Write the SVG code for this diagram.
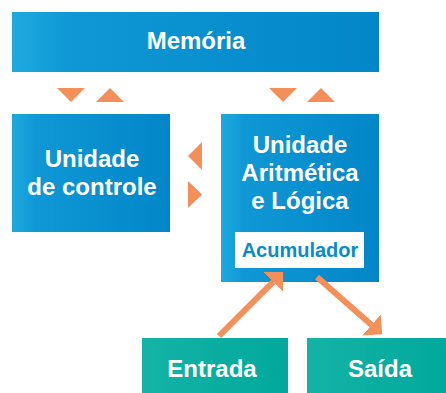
<svg xmlns="http://www.w3.org/2000/svg" width="446" height="393" viewBox="0 0 446 393">
<defs>
<linearGradient id="blue" x1="0" y1="0" x2="1" y2="0">
<stop offset="0" stop-color="#1eaadf"/>
<stop offset="0.15" stop-color="#0f98d5"/>
<stop offset="1" stop-color="#0286c8"/>
</linearGradient>
<linearGradient id="teal" x1="0" y1="0" x2="1" y2="0">
<stop offset="0" stop-color="#14b3a6"/>
<stop offset="1" stop-color="#00a99c"/>
</linearGradient>
<marker id="head" viewBox="0 0 10 20" refX="0" refY="10" markerUnits="userSpaceOnUse" markerWidth="14" markerHeight="28" orient="auto">
<path d="M0,0 L10,10 L0,20 z" fill="#f58f5a"/>
</marker>
</defs>
<style>
.box{fill:url(#blue);}
.io{fill:url(#teal);}
.t{font-family:"Liberation Sans",Arial,sans-serif;font-weight:700;fill:#ffffff;text-anchor:middle;font-size:24px;}
.acc{font-family:"Liberation Sans",Arial,sans-serif;font-weight:700;fill:#0a8ccc;text-anchor:middle;font-size:20px;}
.tri{fill:#f58f5a;}
.ln{stroke:#f58f5a;stroke-width:6;fill:none;}
</style>
<g id="memoria">
<rect class="box" x="12" y="12" width="367" height="60"/>
<text class="t" x="196" y="49">Memória</text>
</g>
<g id="controle">
<rect class="box" x="12" y="114" width="158" height="118"/>
<text class="t" x="92" y="167">Unidade</text>
<text class="t" x="92" y="195">de controle</text>
</g>
<g id="ula">
<rect class="box" x="221" y="114" width="158" height="168"/>
<text class="t" x="300" y="153">Unidade</text>
<text class="t" x="300" y="181">Aritmética</text>
<text class="t" x="300" y="209">e Lógica</text>
<g id="acumulador">
<rect x="235" y="232" width="129" height="36" fill="#ffffff"/>
<text class="acc" x="300" y="257">Acumulador</text>
</g>
</g>
<g id="entrada">
<rect class="io" x="142" y="338" width="146" height="55"/>
<text class="t" x="212" y="377">Entrada</text>
</g>
<g id="saida">
<rect class="io" x="307" y="338" width="139" height="55"/>
<text class="t" x="380" y="377">Saída</text>
</g>
<g id="connectors">
<polygon class="tri" points="57,88 85,88 71,102"/>
<polygon class="tri" points="96,102 124,102 110,88"/>
<polygon class="tri" points="269,88 297,88 283,102"/>
<polygon class="tri" points="307,102 335,102 321,88"/>
<polygon class="tri" points="202,142 202,170 188,156"/>
<polygon class="tri" points="188,181 188,208 202,194.5"/>
<line class="ln" x1="219" y1="336" x2="273.2" y2="281.8" marker-end="url(#head)"/>
<line class="ln" x1="317" y1="277" x2="371.6" y2="324.9" marker-end="url(#head)"/>
</g>
</svg>
